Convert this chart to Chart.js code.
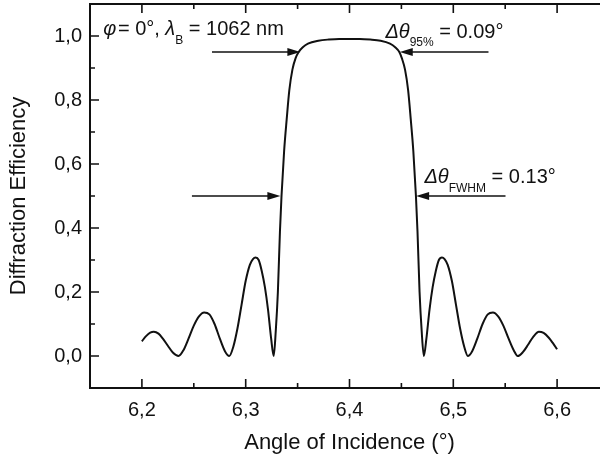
<!DOCTYPE html>
<html>
<head>
<meta charset="utf-8">
<script src="https://cdn.jsdelivr.net/npm/chart.js@4.4.0/dist/chart.umd.min.js"></script>
<style>
  html, body { margin: 0; padding: 0; background: #fff; overflow: hidden; }
  #wrap { width: 614px; height: 457px; }
</style>
</head>
<body>
<div id="wrap"><canvas id="chart"></canvas></div>
<script>
// values
const angles = [
  6.2000, 6.2040, 6.2080, 6.2115, 6.2160, 6.2200, 6.2250, 6.2300, 6.2353,
  6.2400, 6.2450, 6.2500, 6.2550, 6.2600, 6.2650, 6.2700, 6.2750, 6.2800, 6.2842,
  6.2880, 6.2920, 6.2960, 6.3000, 6.3040, 6.3070, 6.3095, 6.3125, 6.3155, 6.3185, 6.3215, 6.3245, 6.3270,
  6.3290, 6.3310, 6.3330, 6.3345, 6.3370, 6.3395, 6.3420, 6.3450, 6.3480, 6.3510, 6.3550, 6.3600,
  6.3700, 6.3800, 6.3900, 6.4000, 6.4100, 6.4200, 6.4300,
  6.4390, 6.4440, 6.4480, 6.4505, 6.4535, 6.4565, 6.4590, 6.4615, 6.4640, 6.4655, 6.4675, 6.4695, 6.4716,
  6.4741, 6.4771, 6.4801, 6.4831, 6.4861, 6.4891, 6.4916, 6.4946, 6.4986, 6.5026, 6.5066, 6.5106, 6.5140,
  6.5182, 6.5232, 6.5282, 6.5332, 6.5382, 6.5432, 6.5482, 6.5532, 6.5582, 6.5620,
  6.5670, 6.5720, 6.5770, 6.5825, 6.5870, 6.5920, 6.5960, 6.6000
];
const efficiency = [
  0.046, 0.062, 0.073, 0.076, 0.070, 0.055, 0.032, 0.010, 0.000,
  0.018, 0.055, 0.095, 0.124, 0.136, 0.130, 0.100, 0.055, 0.015, 0.000,
  0.028, 0.085, 0.160, 0.235, 0.285, 0.303, 0.308, 0.300, 0.265, 0.215, 0.145, 0.055, 0.000,
  0.080, 0.200, 0.390, 0.500, 0.640, 0.740, 0.830, 0.895, 0.930, 0.950, 0.965, 0.976,
  0.985, 0.989, 0.991, 0.991, 0.991, 0.989, 0.985,
  0.976, 0.965, 0.950, 0.930, 0.895, 0.830, 0.740, 0.640, 0.500, 0.390, 0.200, 0.080, 0.000,
  0.055, 0.145, 0.215, 0.265, 0.300, 0.308, 0.303, 0.285, 0.235, 0.160, 0.085, 0.028, 0.000,
  0.015, 0.055, 0.100, 0.130, 0.136, 0.124, 0.095, 0.055, 0.018, 0.000,
  0.012, 0.035, 0.060, 0.076, 0.072, 0.057, 0.040, 0.021
];

const xTicks = [6.2, 6.3, 6.4, 6.5, 6.6];
const xMinor = [6.25, 6.35, 6.45, 6.55];
const yTicks = [0, 0.2, 0.4, 0.6, 0.8, 1.0];
const yMinor = [0.1, 0.3, 0.5, 0.7, 0.9];

// arrows marking the 95% and FWHM widths (angle from, angle to, efficiency level)
const arrowFrom = [6.2675, 6.5339, 6.2482, 6.5503];
const arrowTo = [6.3527, 6.4484, 6.3334, 6.4642];
const arrowLevel = [0.95, 0.95, 0.5, 0.5];

// annotation texts: [text, style] with i = italic, s = subscript, n = normal
const notes = [
  { x: 6.1627, y: 1.003, parts: [["φ", "i"], ["\u200A= 0°, ", "n"], ["λ", "i"], ["B", "s"], [" = 1062 nm", "n"]] },
  { x: 6.4346, y: 0.9953, parts: [["Δθ", "i"], ["95%", "s"], [" = 0.09°", "n"]] },
  { x: 6.4722, y: 0.5397, parts: [["Δθ", "i"], ["FWHM", "s"], [" = 0.13°", "n"]] }
];

const FONT = "'Liberation Sans', Arial, sans-serif";
const points = angles.map((a, i) => ({ x: a, y: efficiency[i] }));
const fmt = v => v.toFixed(1).replace(".", ",");

const framePlugin = {
  id: "frame",
  afterDatasetsDraw(chart) {
    const ctx = chart.ctx;
    const a = chart.chartArea;
    const xs = chart.scales.x, ys = chart.scales.y;
    ctx.save();
    ctx.strokeStyle = "#111";
    ctx.lineWidth = 2;
    ctx.strokeRect(a.left, a.top, a.right - a.left, a.bottom - a.top);

    // inward ticks on all four sides
    ctx.lineWidth = 1.6;
    ctx.beginPath();
    const tickX = (v, len) => {
      const px = xs.getPixelForValue(v);
      ctx.moveTo(px, a.bottom); ctx.lineTo(px, a.bottom - len);
      ctx.moveTo(px, a.top); ctx.lineTo(px, a.top + len);
    };
    const tickY = (v, len) => {
      const py = ys.getPixelForValue(v);
      ctx.moveTo(a.left, py); ctx.lineTo(a.left + len, py);
      ctx.moveTo(a.right, py); ctx.lineTo(a.right - len, py);
    };
    xTicks.forEach(v => tickX(v, 9));
    xMinor.forEach(v => tickX(v, 5));
    yTicks.forEach(v => tickY(v, 9));
    yMinor.forEach(v => tickY(v, 5));
    ctx.stroke();

    // arrows
    ctx.fillStyle = "#111";
    ctx.lineWidth = 1.6;
    arrowFrom.forEach((f, i) => {
      const x0 = xs.getPixelForValue(f);
      const x1 = xs.getPixelForValue(arrowTo[i]);
      const y = ys.getPixelForValue(arrowLevel[i]);
      const dir = x1 > x0 ? 1 : -1;
      ctx.beginPath();
      ctx.moveTo(x0, y);
      ctx.lineTo(x1 - dir * 10, y);
      ctx.stroke();
      ctx.beginPath();
      ctx.moveTo(x1, y);
      ctx.lineTo(x1 - dir * 13, y - 4);
      ctx.lineTo(x1 - dir * 13, y + 4);
      ctx.closePath();
      ctx.fill();
    });

    // annotation texts
    ctx.textBaseline = "alphabetic";
    ctx.textAlign = "left";
    notes.forEach(n => {
      let x = xs.getPixelForValue(n.x);
      const y = ys.getPixelForValue(n.y);
      n.parts.forEach(([t, s]) => {
        let dy = 0;
        if (s === "i") ctx.font = "italic 20px " + FONT;
        else if (s === "s") { ctx.font = "12px " + FONT; dy = 8.5; }
        else ctx.font = "20px " + FONT;
        ctx.fillText(t, x, y + dy);
        x += ctx.measureText(t).width;
      });
    });
    ctx.restore();
  }
};

new Chart(document.getElementById("chart"), {
  type: "line",
  data: {
    datasets: [{
      data: points,
      borderColor: "#111",
      borderWidth: 2,
      pointRadius: 0,
      cubicInterpolationMode: "monotone",
      fill: false
    }]
  },
  options: {
    responsive: true,
    maintainAspectRatio: false,
    animation: false,
    layout: { padding: { top: 4, right: 5, left: 0, bottom: 0 } },
    plugins: { legend: { display: false }, tooltip: { enabled: false } },
    scales: {
      x: {
        type: "linear",
        min: 6.15,
        max: 6.65,
        grid: { display: false, drawTicks: false },
        border: { display: false },
        afterBuildTicks: axis => { axis.ticks = xTicks.map(v => ({ value: v })); },
        afterFit: axis => { axis.height = 69; axis.paddingLeft = 0; axis.paddingRight = 0; },
        ticks: {
          padding: 10,
          color: "#111",
          font: { family: FONT, size: 20 },
          maxRotation: 0,
          callback: v => fmt(v)
        },
        title: {
          display: true,
          text: "Angle of Incidence (°)",
          color: "#111",
          font: { family: FONT, size: 22 },
          padding: { top: 0, bottom: 1 }
        }
      },
      y: {
        min: -0.1,
        max: 1.1,
        grid: { display: false, drawTicks: false },
        border: { display: false },
        afterBuildTicks: axis => { axis.ticks = yTicks.map(v => ({ value: v })); },
        afterFit: axis => { axis.width = 90; axis.paddingTop = 0; axis.paddingBottom = 0; },
        ticks: {
          padding: 8,
          color: "#111",
          font: { family: FONT, size: 20 },
          callback: v => fmt(v)
        },
        title: {
          display: true,
          text: "Diffraction Efficiency",
          color: "#111",
          font: { family: FONT, size: 22 },
          padding: { top: 6, bottom: 0 }
        }
      }
    }
  },
  plugins: [framePlugin]
});
</script>
</body>
</html>
